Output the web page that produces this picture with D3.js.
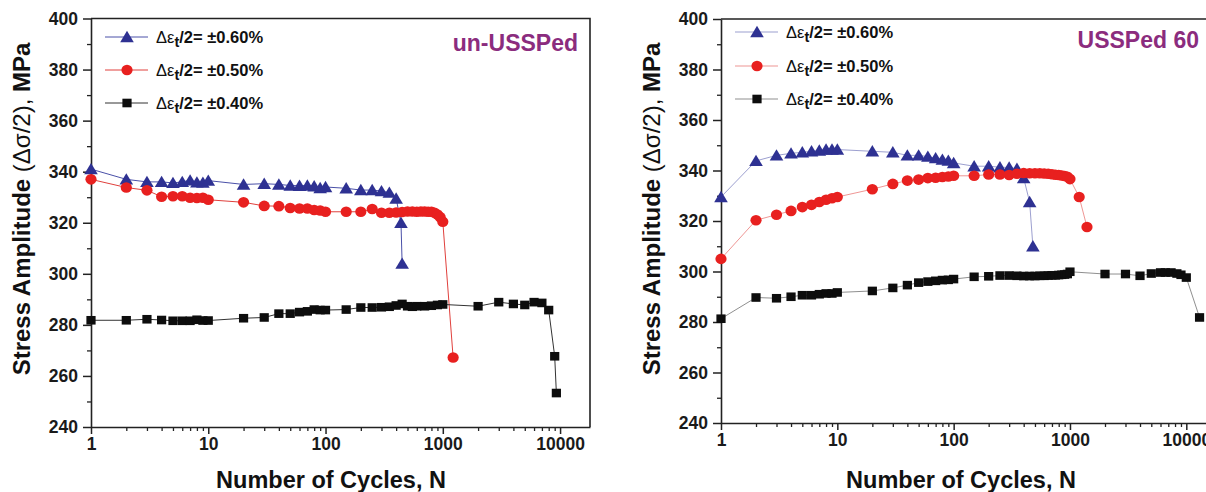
<!DOCTYPE html>
<html>
<head>
<meta charset="utf-8">
<script src="https://cdn.jsdelivr.net/npm/d3@7"></script>
<style>
  html, body { margin: 0; padding: 0; background: #fff; }
  svg { display: block; font-family: "Liberation Sans", Arial, sans-serif; }
</style>
</head>
<body>
<svg id="chart" width="1206" height="492"></svg>
<script>
// ---- data: cyclic stress response, N (cycles) vs stress amplitude (MPa) ----
// un-USSPed
const cyclesUn060 = [1,2,3,4,5,6,7,8,9,10,20,30,40,50,60,70,80,90,100,150,200,250,300,350,400,440,450];
const stressUn060 = [341,337,336,336,335.6,336,336.6,335.8,335.7,336.5,335,335.3,335,334.6,334.5,334.6,334.3,333.6,334,333.5,332.8,332.8,332.4,331.8,329.5,320,304];

const cyclesUn050 = [1,2,3,4,5,6,7,8,9,10,20,30,40,50,60,70,80,90,100,150,200,250,300,350,400,450,500,550,600,650,700,750,800,850,900,950,1000,1225];
const stressUn050 = [337,333.8,332.7,330.2,330.4,330.4,329.8,329.7,329.8,329,328,326.6,326.5,325.8,325.6,325.6,325,324.8,324.3,324.3,324.3,325.4,323.9,323.9,324,324.2,324.4,324.4,324.3,324.4,324.4,324.3,324.3,323.9,323.2,322.2,320.4,267.2];

const cyclesUn040 = [1,2,3,4,5,6,7,8,9,10,20,30,40,50,60,70,80,90,100,150,200,250,300,350,400,450,500,550,600,700,800,900,1000,2000,3000,4000,5000,6000,7000,8000,9000,9300];
const stressUn040 = [281.8,281.8,282.2,281.9,281.6,281.6,281.6,282,281.7,281.7,282.6,282.9,284.4,284.4,285,285.3,286,285.8,285.8,286,286.8,286.8,286.9,287.1,287.6,288.2,287.3,287.1,287.3,287.3,287.5,287.8,288,287.3,288.9,288.2,287.8,288.9,288.6,285.8,267.7,253.3];

// USSPed 60
const cyclesSp060 = [1,2,3,4,5,6,7,8,9,10,20,30,40,50,60,70,80,90,100,150,200,250,300,350,400,450,480];
const stressSp060 = [329.5,343.8,346,346.8,347.2,347.6,347.9,348.3,348.3,348.3,347.6,347.2,346,346,345.5,344.9,344.3,343.9,343,341.7,341.7,341.3,341.2,340.7,337,327.5,310];

const cyclesSp050 = [1,2,3,4,5,6,7,8,9,10,20,30,40,50,60,70,80,90,100,150,200,250,300,350,400,450,500,550,600,650,700,750,800,850,900,950,1000,1200,1400];
const stressSp050 = [305,320.3,322.5,324,325.5,326.4,327.5,328.4,329,329.5,332.6,334.7,336,336.4,337,337.1,337.4,337.6,337.9,337.9,338.4,338.4,338.2,338.7,339,338.9,338.9,338.9,338.8,338.7,338.5,338.3,338.2,338,337.8,337.5,336.6,329.5,317.6];

const cyclesSp040 = [1,2,3,4,5,6,7,8,9,10,20,30,40,50,60,70,80,90,100,150,200,250,300,350,400,450,500,550,600,650,700,750,800,850,900,950,1000,2000,3000,4000,5000,6000,6600,7400,8300,9000,10000,13000];
const stressSp040 = [281.3,289.7,289.4,290,290.6,290.6,291,291.3,291.3,291.7,292.3,293.5,294.6,295.6,296,296.3,296.6,296.7,297,297.9,298.1,298.4,298.4,298.3,298.2,298.2,298.2,298.3,298.3,298.4,298.5,298.5,298.6,298.7,298.8,299,299.9,299,299,298.3,299.2,299.6,299.6,299.6,299.2,298.7,297.6,281.8];

// axes
const xMajorTicks = [1, 10, 100, 1000, 10000];
const yMajorTicks = [240, 260, 280, 300, 320, 340, 360, 380, 400];
const legendLabels = ["±0.60%", "±0.50%", "±0.40%"];
const panelTitles = ["un-USSPed", "USSPed 60"];
const xTitle = "Number of Cycles, N";

// ---- drawing ----
const svg = d3.select("#chart");

const styles = {
  tri:    { color: "#2e3192", line: "#4a50a8" },
  circle: { color: "#e8201f", line: "#e0403c" },
  square: { color: "#0d0d0d", line: "#333333" }
};

const panels = [
  { left: 91, right: 590, top: 18.5, bottom: 427, titleX: 578, titleY: 51, ytX: 30,
    legX: 105, legY: [37, 70, 103], lineOpacity: 1,
    series: [
      { kind: "tri", n: cyclesUn060, s: stressUn060 },
      { kind: "circle", n: cyclesUn050, s: stressUn050 },
      { kind: "square", n: cyclesUn040, s: stressUn040 }
    ] },
  { left: 721, right: 1216, top: 19, bottom: 423, titleX: 1199, titleY: 48, ytX: 660,
    legX: 735, legY: [32, 66, 99], lineOpacity: 0.55,
    series: [
      { kind: "tri", n: cyclesSp060, s: stressSp060 },
      { kind: "circle", n: cyclesSp050, s: stressSp050 },
      { kind: "square", n: cyclesSp040, s: stressSp040 }
    ] }
];

function drawMarker(g, kind, x, y) {
  const st = styles[kind];
  if (kind === "tri") {
    g.append("path").attr("d", `M${x},${y - 6.2} L${x + 6.8},${y + 5.2} L${x - 6.8},${y + 5.2} Z`).attr("fill", st.color);
  } else if (kind === "circle") {
    g.append("ellipse").attr("cx", x).attr("cy", y).attr("rx", 5.6).attr("ry", 5.3).attr("fill", st.color);
  } else {
    g.append("rect").attr("x", x - 4.6).attr("y", y - 4.3).attr("width", 9.2).attr("height", 8.6).attr("fill", st.color);
  }
}

panels.forEach((p, pi) => {
  const x = d3.scaleLog().domain([1, 18000]).range([p.left, p.right]);
  const y = d3.scaleLinear().domain([240, 400]).range([p.bottom, p.top]);
  const g = svg.append("g");

  // frame: top and right edges
  g.append("path")
    .attr("d", `M${p.left},${p.top} H${p.right} V${p.bottom}`)
    .attr("fill", "none").attr("stroke", "#222").attr("stroke-width", 1.6);

  // minor ticks
  const xMinor = [];
  [1, 10, 100, 1000, 10000].forEach(d => { for (let k = 2; k <= 9; k++) if (d * k < 18000) xMinor.push(d * k); });
  g.append("g").attr("transform", `translate(0,${p.bottom})`)
    .call(d3.axisBottom(x).tickValues(xMinor).tickSize(4).tickFormat(""))
    .call(a => a.select(".domain").remove())
    .selectAll("line").attr("stroke", "#222").attr("stroke-width", 1.3);
  const yMinor = d3.range(250, 400, 20);
  g.append("g").attr("transform", `translate(${p.left},0)`)
    .call(d3.axisLeft(y).tickValues(yMinor).tickSize(4).tickFormat(""))
    .call(a => a.select(".domain").remove())
    .selectAll("line").attr("stroke", "#222").attr("stroke-width", 1.3);

  // major axes
  const xa = g.append("g").attr("transform", `translate(0,${p.bottom})`)
    .call(d3.axisBottom(x).tickValues(xMajorTicks).tickSize(7).tickPadding(4).tickFormat(d3.format("d")).tickSizeOuter(0));
  const ya = g.append("g").attr("transform", `translate(${p.left},0)`)
    .call(d3.axisLeft(y).tickValues(yMajorTicks).tickSize(8).tickPadding(5).tickSizeOuter(0));
  [xa, ya].forEach(a => {
    a.select(".domain").attr("stroke", "#222").attr("stroke-width", 1.6);
    a.selectAll(".tick line").attr("stroke", "#222").attr("stroke-width", 1.5);
    a.selectAll(".tick text").attr("fill", "#1a1a1a").attr("font-size", 17.5).attr("font-weight", "bold")
      .attr("font-family", "'Liberation Sans', Arial, sans-serif");
  });

  // series lines then markers
  p.series.forEach(sr => {
    const pts = sr.n.map((n, i) => [x(n), y(sr.s[i])]);
    g.append("path").attr("d", d3.line()(pts)).attr("fill", "none")
      .attr("stroke", styles[sr.kind].line).attr("stroke-width", 1)
      .attr("stroke-opacity", p.lineOpacity);
  });
  p.series.forEach(sr => {
    const mg = g.append("g");
    sr.n.forEach((n, i) => drawMarker(mg, sr.kind, x(n), y(sr.s[i])));
  });

  // legend
  p.series.forEach((sr, i) => {
    const ly = p.legY[i];
    g.append("line").attr("x1", p.legX).attr("x2", p.legX + 43).attr("y1", ly).attr("y2", ly)
      .attr("stroke", styles[sr.kind].line).attr("stroke-width", 1).attr("stroke-opacity", p.lineOpacity);
    drawMarker(g, sr.kind, p.legX + 22, ly);
    const t = g.append("text").attr("x", p.legX + 51).attr("y", ly + 5.5)
      .attr("font-size", 16.5).attr("fill", "#111");
    t.append("tspan").text("Δε");
    t.append("tspan").attr("dy", 4.5).attr("font-weight", "bold").attr("font-size", 14.5).text("t");
    t.append("tspan").attr("dy", -4.5).attr("font-weight", "bold").text("/2= " + legendLabels[i]);
  });

  // panel label
  g.append("text").attr("x", p.titleX).attr("y", p.titleY).attr("text-anchor", "end")
    .attr("font-size", 23).attr("font-weight", "bold").attr("fill", "#8b2c7e").text(panelTitles[pi]);

  // axis titles
  g.append("text").attr("x", p.left + 240).attr("y", 488)
    .attr("text-anchor", "middle").attr("font-size", 23.5).attr("font-weight", "bold").attr("fill", "#111")
    .text(xTitle);
  const yt = g.append("text")
    .attr("transform", `translate(${p.ytX},209) rotate(-90)`)
    .attr("text-anchor", "middle").attr("font-size", 24).attr("fill", "#111");
  yt.append("tspan").attr("font-weight", "bold").text("Stress Amplitude ");
  yt.append("tspan").text("(Δσ/2), ");
  yt.append("tspan").attr("font-weight", "bold").text("MPa");
});
</script>
</body>
</html>
